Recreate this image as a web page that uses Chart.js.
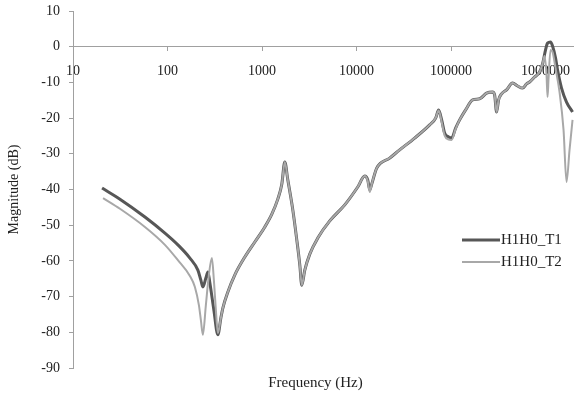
<!DOCTYPE html>
<html>
<head>
<meta charset="utf-8">
<script src="https://cdn.jsdelivr.net/npm/chart.js@4.4.1/dist/chart.umd.min.js"></script>
<style>
    body { margin: 0; background: #fff; }
    canvas { display: block; }
</style>
</head>
<body>
<canvas id="magnitudeChart" width="574" height="393"></canvas>
<script>
// Tick values for both axes.
const xTickValues = [10, 100, 1000, 10000, 100000, 1000000];
const yTickValues = [10, 0, -10, -20, -30, -40, -50, -60, -70, -80, -90];

// H1H0_T1 (dark, thick).
const freqT1 = [20.3, 31.4, 57.7, 93.9, 128.8, 172.5, 209.6, 225.5, 236.7, 254.6, 267.4, 280.8, 309.5, 341,
    366.8, 385.1, 435.1, 515.9, 658, 839, 1070, 1270, 1469, 1619, 1742, 1874, 2117, 2333, 2510, 2635,
    2834, 3201, 3890, 5209, 7507, 10300, 12210, 13140, 13790, 14480, 16350, 22440, 28620, 41230,
    59400, 68760, 73930, 79560, 85560, 94330, 101500, 111800, 123300, 142700, 169200, 200600,
    237800, 275300, 289000, 303400, 318600, 342700, 387000, 448000, 505800, 571200, 630000,
    677500, 765000, 864000, 929700, 1000000, 1050000, 1129000, 1186000, 1276000, 1339000,
    1476000, 1667000, 1930000];
const magT1 = [-39.6, -42.7, -47.7, -52.2, -55.5, -59.2, -62.6, -65.4, -67.3, -64.8, -63.1, -66.2, -73.8, -80.7,
    -76.0, -73.2, -68.7, -63.9, -58.9, -54.7, -50.5, -46.9, -42.7, -38.5, -32.3, -37.3, -45.7, -54.1, -61.1, -66.8,
    -62.6, -58.1, -53.6, -48.8, -44.3, -39.3, -36.2, -37.3, -40.1, -38.5, -34.0, -31.2, -28.9, -25.6,
    -21.9, -20.0, -17.7, -20.5, -24.2, -25.3, -25.6, -22.8, -20.5, -17.7, -14.9, -14.6,
    -13.0, -12.7, -13.5, -18.3, -14.9, -13.2, -12.1, -10.2, -11.0, -11.6, -10.4,
    -9.9, -8.5, -7.1, -4.8, -0.9, 1.0, 1.3, 0.2, -3.2, -6.5,
    -11.6, -15.5, -18.3];

// H1H0_T2 (light, thin).
const freqT2 = [20.8, 31.4, 57.7, 93.9, 128.8, 172.5, 194.9, 214.8, 225.5, 236.7, 254.6, 274.0, 294.8, 309.5, 324.9, 341,
    366.8, 385.1, 435.1, 515.9, 658, 839, 1070, 1270, 1469, 1619, 1742, 1874, 2117, 2333, 2510, 2635,
    2834, 3201, 3890, 5209, 7507, 10300, 12210, 13140, 13790, 14480, 16350, 22440, 28620, 41230,
    59400, 68760, 73930, 79560, 85560, 94330, 101500, 111800, 123300, 142700, 169200, 200600,
    237800, 275300, 289000, 303400, 318600, 342700, 387000, 448000, 505800, 571200, 630000,
    677500, 765000, 864000, 929700, 975900, 1024000, 1050000, 1076000, 1129000, 1186000, 1276000,
    1406000, 1550000, 1667000, 1794000, 1930000];
const magT2 = [-42.4, -45.4, -50.5, -55.5, -59.8, -64.2, -67.3, -72.4, -76.6, -80.7, -72.4, -63.9, -59.2, -65.4, -73.8, -80.2,
    -76.0, -73.2, -68.7, -63.9, -58.9, -54.7, -50.5, -46.9, -42.7, -38.5, -32.3, -37.3, -45.7, -54.1, -61.1, -66.8,
    -62.6, -58.1, -53.6, -48.8, -44.3, -39.3, -36.2, -37.6, -40.7, -38.5, -34.0, -31.2, -28.9, -25.6,
    -21.9, -20.0, -17.9, -21.0, -24.9, -26.0, -26.1, -23.0, -20.5, -17.7, -14.9, -14.6,
    -13.0, -12.7, -13.5, -18.3, -14.9, -13.2, -12.1, -10.2, -11.0, -11.6, -10.4,
    -9.9, -8.5, -7.1, -4.8, -2.6, -7.9, -14.1, -8.8, -0.9, -1.5, -6.0,
    -12.7, -23.3, -37.9, -28.9, -20.5];

const textColor = '#222';
const axisColor = '#a0a0a0';

function toPoints(freqs, mags) {
    return freqs.map(function (f, i) {
        return { x: f, y: mags[i] };
    });
}

// Keep the tick labels from pushing the plot area inwards.
function noScalePadding(scale) {
    scale.paddingTop = 0;
    scale.paddingBottom = 0;
    scale.paddingLeft = 0;
    scale.paddingRight = 0;
}

// Draws the x axis title under the plot and the legend inside the plot.
const extrasPlugin = {
    id: 'extras',
    afterDraw: function (chart) {
        const ctx = chart.ctx;
        const area = chart.chartArea;
        ctx.save();
        ctx.fillStyle = textColor;
        ctx.font = '15px "Liberation Serif"';
        ctx.textAlign = 'center';
        ctx.textBaseline = 'middle';
        ctx.fillText('Frequency (Hz)', (area.left + area.right) / 2 - 8, 383);

        // Legend
        const lx = area.right - 112;
        let ly = 240;
        chart.data.datasets.forEach(function (ds) {
            ctx.strokeStyle = ds.borderColor;
            ctx.lineWidth = ds.borderWidth;
            ctx.beginPath();
            ctx.moveTo(lx, ly);
            ctx.lineTo(lx + 38, ly);
            ctx.stroke();
            ctx.textAlign = 'left';
            ctx.fillText(ds.label, lx + 39, ly);
            ly += 22;
        });
        ctx.restore();
    }
};

const chart = document.getElementById('magnitudeChart');
new Chart(chart, {
    type: 'line',
    data: {
        datasets: [{
            label: 'H1H0_T1',
            data: toPoints(freqT1, magT1),
            borderColor: '#575757',
            borderWidth: 3,
            pointRadius: 0,
            cubicInterpolationMode: 'monotone',
            order: 2
        }, {
            label: 'H1H0_T2',
            data: toPoints(freqT2, magT2),
            borderColor: '#a8a8a8',
            borderWidth: 2,
            pointRadius: 0,
            cubicInterpolationMode: 'monotone',
            order: 1
        }]
    },
    options: {
        responsive: false,
        animation: false,
        layout: {
            padding: { top: 11, right: 0, bottom: 25, left: 0 }
        },
        scales: {
            x: {
                type: 'logarithmic',
                min: 10,
                max: 2000000,
                position: { y: 0 },
                afterBuildTicks: function (scale) {
                    scale.ticks = xTickValues.map(function (v) { return { value: v }; });
                },
                afterFit: noScalePadding,
                ticks: {
                    autoSkip: false,
                    maxRotation: 0,
                    padding: 12,
                    color: textColor,
                    font: { family: 'Liberation Serif', size: 14 },
                    callback: function (value) { return String(value); }
                },
                grid: {
                    drawOnChartArea: false,
                    tickLength: 4,
                    color: axisColor
                },
                border: { color: axisColor }
            },
            y: {
                min: -90,
                max: 10,
                afterFit: function (scale) {
                    noScalePadding(scale);
                    scale.width = 73;
                },
                afterBuildTicks: function (scale) {
                    scale.ticks = yTickValues.map(function (v) { return { value: v }; });
                },
                ticks: {
                    padding: 9,
                    color: textColor,
                    font: { family: 'Liberation Serif', size: 14 }
                },
                grid: {
                    drawOnChartArea: false,
                    tickLength: 4,
                    color: axisColor
                },
                border: { color: axisColor },
                title: {
                    display: true,
                    text: 'Magnitude (dB)',
                    color: textColor,
                    padding: { top: 6, bottom: 0 },
                    font: { family: 'Liberation Serif', size: 14 }
                }
            }
        },
        plugins: {
            legend: { display: false },
            tooltip: { enabled: false }
        }
    },
    plugins: [extrasPlugin]
});
</script>
</body>
</html>
